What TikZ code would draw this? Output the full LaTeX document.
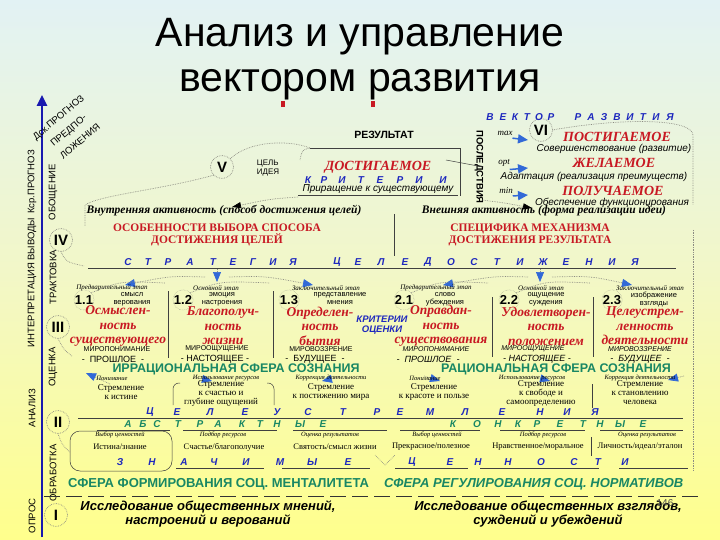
\documentclass[tikz,border=0pt]{standalone}
\usepackage{fontspec}
\setmainfont{Liberation Sans}
\setsansfont{Liberation Sans}
\newfontfamily\serifr{Liberation Serif}
\usetikzlibrary{arrows.meta}
\definecolor{vblue}{RGB}{30,40,190}
\definecolor{dred}{RGB}{200,25,35}
\definecolor{sgreen}{RGB}{25,135,100}
\definecolor{ablue}{RGB}{50,105,215}
\definecolor{axisblue}{RGB}{25,25,175}
\definecolor{bgtop}{RGB}{226,242,244}
\definecolor{bgmid}{RGB}{242,247,200}
\definecolor{bgbot}{RGB}{255,255,140}
\definecolor{dotg}{RGB}{140,140,130}
\newcommand\fsz[2]{\fontsize{#1}{#2}\selectfont}
\newcommand\spl[4]{\foreach \sletter/\sx [count=\si] in {#4} {\node[#3] (#1\si) at (\sx,#2) {\sletter};}}
\begin{document}
\begin{tikzpicture}[x=1pt,y=-1pt,
  every node/.style={inner sep=0pt, outer sep=0pt},
  sp/.style={font=\sffamily\bfseries\itshape\fsz{10}{10}, text=vblue},
  spg/.style={font=\sffamily\bfseries\itshape\fsz{10}{10}, text=sgreen},
  redb/.style={font=\serifr\bfseries\itshape\fsz{13.5}{14.5}, text=dred, align=center},
  redh/.style={font=\serifr\bfseries\itshape\fsz{14}{14}, text=dred},
  redcap/.style={font=\serifr\bfseries\fsz{11.5}{12}, text=dred, align=center},
  smalls/.style={font=\sffamily\fsz{7.5}{8}, align=center},
  lbl/.style={font=\serifr\itshape\fsz{7}{7}},
  lbls/.style={font=\serifr\itshape\fsz{6.5}{6.5}},
  num/.style={font=\sffamily\bfseries\fsz{13}{13}, circle, draw=dotg, densely dotted, minimum size=19pt},
  roman/.style={font=\sffamily\bfseries\fsz{15}{15}, circle, draw=dotg, densely dotted, line width=0.7pt, minimum size=23pt},
  side/.style={font=\sffamily\fsz{9.5}{9.5}, rotate=90},
  diag/.style={font=\sffamily\fsz{9.5}{9.5}, rotate=40},
  greenb/.style={font=\sffamily\bfseries\fsz{12.5}{12.5}, text=sgreen},
  itl/.style={font=\serifr\bfseries\itshape\fsz{11.5}{12}},
  sit/.style={font=\sffamily\itshape\fsz{10}{10}},
  capsr/.style={font=\sffamily\fsz{7}{7}},
  capsi/.style={font=\sffamily\itshape\fsz{7}{7}},
  timer/.style={font=\sffamily\fsz{9}{9}},
  timei/.style={font=\sffamily\itshape\fsz{9}{9}},
  strv/.style={font=\serifr\fsz{9}{9}, align=center},
  valr/.style={font=\serifr\fsz{8.5}{8.5}},
  dotl/.style={draw=dotg, densely dotted, line width=0.7pt},
  thinl/.style={draw=black!75, line width=0.5pt},
  btip/.style={dotl, -{Triangle[length=10pt,width=8pt,color=ablue]}},
  ktip/.style={dotl, -{Triangle[length=9pt,width=6pt,color=black]}},
  harr/.style={ablue, line width=1.5pt, -{Triangle[length=10pt,width=9pt]}}
]
% background
\shade[top color=bgtop, bottom color=bgbot, middle color=bgmid] (0,0) rectangle (720,540);
\useasboundingbox (0,0) rectangle (720,540);

% title
\node[font=\fsz{41}{41}, anchor=base] (t1) at (360,47) {Анализ и управление};
\node[font=\fsz{41}{41}, anchor=base] (t2) at (360,92) {вектором развития};
\fill[dred] (281,101) rectangle (285,107);
\fill[dred] (371,101) rectangle (375,107);

% axis
\coordinate (axb) at (42,537);
\coordinate (axt) at (42,95);
\draw[axisblue, line width=2.5pt, -{Triangle[length=11pt,width=10pt]}] (axb) -- (axt);

% side labels
\node[side] (lopros) at (32,516) {ОПРОС};
\node[side] (lanal) at (32,408) {АНАЛИЗ};
\node[side] (linterp) at (32,305) {ИНТЕРПРЕТАЦИЯ};
\node[side] (lvyv) at (32,239) {ВЫВОДЫ};
\node[side] (lkcr) at (32,182) {Кср.ПРОГНОЗ};
\node[side] (lobr) at (53,473) {ОБРАБОТКА};
\node[side] (locen) at (53,367) {ОЦЕНКА};
\node[side] (ltrakt) at (53,277) {ТРАКТОВКА};
\node[side] (lobob) at (53,192) {ОБОЩЕНИЕ};
\node[diag] (dsk) at (59,118) {Дск.ПРОГНОЗ};
\node[diag] (pred1) at (69,131) {ПРЕДПО-};
\node[diag] (pred2) at (80,141) {ЛОЖЕНИЯ};

% roman numerals
\node[roman] (rV) at (222,167) {V};
\node[roman] (rVI) at (541,130) {VI};
\node[roman] (rIV) at (61,240) {IV};
\node[roman] (rIII) at (58,327) {III};
\node[roman] (rII) at (58,422) {II};
\node[roman] (rI) at (56,515) {I};

% top block
\spl{vr}{117}{sp}{В/490,Е/503,К/515,Т/527,О/539,Р/551,Р/578,А/591,З/604,В/617,И/630,Т/643,И/656,Я/670}
\node[font=\sffamily\bfseries\fsz{10.5}{10.5}] (res) at (384,135) {РЕЗУЛЬТАТ};
\coordinate (rl0) at (310,148);
\coordinate (rl1) at (460,148);
\coordinate (rl2) at (460,196);
\coordinate (rh0) at (446,160);
\node[font=\sffamily\bfseries\fsz{9.5}{9.5}, rotate=-90] (posl) at (479,167) {ПОСЛЕДСТВИЯ};
\draw[thinl] (rl0) -- (rl1) -- (rl2);
\draw[thinl] (rh0) -- (posl.north);
\node[font=\serifr\itshape\fsz{9}{9}] (mx) at (505,133) {max};
\node[font=\serifr\itshape\fsz{9}{9}] (op) at (504,163) {opt};
\node[font=\serifr\itshape\fsz{9}{9}] (mn) at (506,191) {min};
\coordinate (a1) at (528,140); \coordinate (a2) at (528,168); \coordinate (a3) at (528,195);
\draw[harr] (mx.south east) ++(0,3) coordinate (a1s) -- (a1);
\draw[harr] (op.south east) ++(0,3) coordinate (a2s) -- (a2);
\draw[harr] (mn.south east) ++(0,2) coordinate (a3s) -- (a3);
\node[redh] (post) at (617,137) {ПОСТИГАЕМОЕ};
\node[sit] (sov) at (614,149) {Совершенствование (развитие)};
\node[redh] (zhel) at (614,163) {ЖЕЛАЕМОЕ};
\node[sit] (adap) at (594,177) {Адаптация (реализация преимуществ)};
\node[redh] (polu) at (613,191) {ПОЛУЧАЕМОЕ};
\node[sit] (obes) at (612,203) {Обеспечение функционирования};
\node[font=\sffamily\fsz{8}{9}, align=left] (celid) at (268,168) {ЦЕЛЬ\\ИДЕЯ};
\node[redh] (dost) at (378,167) {ДОСТИГАЕМОЕ};
\spl{kr}{180}{sp}{К/308,Р/324,И/342,Т/361,Е/380,Р/400,И/419,И/443}
\node[sit] (prir) at (378,189) {Приращение к существующему};
\coordinate (pu0) at (298,195); \coordinate (pu1) at (458,195);
\draw[thinl] (pu0) -- (pu1);
\coordinate (vd0) at (300,160);
\draw[dotl] (rl0) .. controls (302,150) .. (vd0);
\draw[dotl] (rV.north east) .. controls (250,140) and (290,140) .. (rl0);
\coordinate (ka0) at (298,197); \coordinate (ka1) at (232,207);
\draw[ktip] (ka0) .. controls (270,199) .. (ka1);
\coordinate (kb0) at (482,200); \coordinate (kb1) at (532,208);
\draw[ktip] (kb0) .. controls (505,203) .. (kb1);
\draw[dotl] (rVI.east) .. controls (620,118) and (692,118) .. (693,135) -- (693,205);
\draw[dotl] (rV.south west) .. controls (160,190) and (100,195) .. (85,205) -- (85,226);

% activity
\node[itl] (vnutr) at (224,211) {Внутренняя активность (способ достижения целей)};
\node[itl] (vnesh) at (544,211) {Внешняя активность (форма реализации идеи)};
\node[redcap] (osob) at (217,235) {ОСОБЕННОСТИ ВЫБОРА СПОСОБА\\ДОСТИЖЕНИЯ ЦЕЛЕЙ};
\node[redcap] (spec) at (530,235) {СПЕЦИФИКА МЕХАНИЗМА\\ДОСТИЖЕНИЯ РЕЗУЛЬТАТА};
\coordinate (mv0) at (394,214); \coordinate (mv1) at (394,256);
\draw[thinl] (mv0) -- (mv1);
\spl{st}{262}{sp}{С/128,Т/148,Р/168,А/190,Т/213,Е/233,Г/253,И/273,Я/293,Ц/337,Е/358,Л/381,Е/405,Д/428,О/451,С/474,Т/497,И/520,Ж/543,Е/566,Н/589,И/612,Я/635}
\coordinate (su0) at (88,268); \coordinate (su1) at (676,268);
\draw[thinl] (su0) -- (su1);
\coordinate (dl0) at (217,269); \coordinate (dl1) at (217,282);
\coordinate (dl2) at (125,285); \coordinate (dl3) at (313,285);
\draw[btip] (dl0) -- (dl1);
\draw[btip] (205,277) .. controls (170,276) .. (dl2);
\draw[btip] (229,277) .. controls (265,276) .. (dl3);
\coordinate (dr0) at (540,269); \coordinate (dr1) at (540,282);
\coordinate (dr2) at (443,285); \coordinate (dr3) at (632,285);
\draw[btip] (dr0) -- (dr1);
\draw[btip] (528,277) .. controls (495,276) .. (dr2);
\draw[btip] (552,277) .. controls (590,276) .. (dr3);

% boxes row
\node[lbl] (st11) at (112,288) {Предварительный этап};
\node[lbl] (st12) at (216,288) {Основной этап};
\node[lbl] (st13) at (326,288) {Заключительный этап};
\node[lbl] (st21) at (436,288) {Предварительный этап};
\node[lbl] (st22) at (541,288) {Основной этап};
\node[lbl] (st23) at (650,288) {Заключительный этап};
\node[num] (n11) at (84,300) {1.1};
\node[num] (n12) at (183,300) {1.2};
\node[num] (n13) at (289,300) {1.3};
\node[num] (n21) at (404,300) {2.1};
\node[num] (n22) at (509,300) {2.2};
\node[num] (n23) at (612,300) {2.3};
\node[smalls] (s11) at (132,299) {смысл\\верования};
\node[smalls] (s12) at (222,299) {эмоция\\настроения};
\node[smalls] (s13) at (340,299) {представление\\мнения};
\node[smalls] (s21) at (445,299) {слово\\убеждения};
\node[smalls] (s22) at (546,299) {ощущение\\суждения};
\node[smalls] (s23) at (654,299) {изображение\\взгляды};
\node[redb] (r11) at (118,326) {Осмыслен-\\ность\\существующего};
\node[redb] (r12) at (223,326) {Благополуч-\\ность\\жизни};
\node[redb] (r13) at (320,326) {Определен-\\ность\\бытия};
\node[redb] (r21) at (441,326) {Оправдан-\\ность\\существования};
\node[redb] (r22) at (546,326) {Удовлетворен-\\ность\\положением};
\node[redb] (r23) at (645,326) {Целеустрем-\\ленность\\деятельности};
\node[font=\sffamily\bfseries\itshape\fsz{9.5}{10}, text=vblue, align=center] (krit) at (382,325) {КРИТЕРИИ\\ОЦЕНКИ};
\node[capsr] (m11) at (117,349) {МИРОПОНИМАНИЕ};
\node[capsr] (m12) at (217,349) {МИРООЩУЩЕНИЕ};
\node[capsr] (m13) at (321,349) {МИРОВОЗЗРЕНИЕ};
\node[capsi] (m21) at (436,349) {МИРОПОНИМАНИЕ};
\node[capsi] (m22) at (533,349) {МИРООЩУЩЕНИЕ};
\node[capsi] (m23) at (640,349) {МИРОВОЗЗРЕНИЕ};
\node[timer] (p11) at (113,359) {- \ ПРОШЛОЕ \ -};
\node[timer] (p12) at (215,359) {- НАСТОЯЩЕЕ -};
\node[timer] (p13) at (315,359) {- \ БУДУЩЕЕ \ -};
\node[timei] (p21) at (428,359) {- \ ПРОШЛОЕ \ -};
\node[timei] (p22) at (537,359) {- НАСТОЯЩЕЕ -};
\node[timei] (p23) at (640,359) {- \ БУДУЩЕЕ \ -};
\node[greenb] (irr) at (236,369.5) {ИРРАЦИОНАЛЬНАЯ СФЕРА СОЗНАНИЯ};
\node[greenb] (rac) at (556,369.5) {РАЦИОНАЛЬНАЯ СФЕРА СОЗНАНИЯ};
\draw[thinl] (168,291) -- (168,358);
\draw[thinl] (273,291) -- (273,358);
\draw[thinl] (492,297) -- (492,357);
\draw[thinl] (593,297) -- (593,357);
\draw[dotl] (n11.north east) .. controls (120,281) .. (165,283);
\draw[dotl] (n12.north east) .. controls (220,281) .. (270,283);
\draw[dotl] (n21.north east) .. controls (440,281) .. (488,283);
\draw[dotl] (n22.north east) .. controls (545,281) .. (590,283);

% blue arrows near sphere labels
\coordinate (ba1) at (86,373); \coordinate (ba2) at (212,381); \coordinate (ba3) at (322,381);
\coordinate (ba4) at (440,381); \coordinate (ba5) at (550,381); \coordinate (ba6) at (668,380);
\draw[btip] (110,384) -- (ba1);
\draw[btip] (194,377) -- (ba2);
\draw[btip] (340,377) -- (ba3);
\draw[btip] (424,376) -- (ba4);
\draw[btip] (532,376) -- (ba5);
\draw[btip] (684,376) -- (ba6);

% lower rows
\node[lbls] (u1) at (112,378) {Понимание};
\node[lbls] (u2) at (226,378) {Использование ресурсов};
\node[lbls] (u3) at (331,378) {Коррекция деятельности};
\node[lbls] (u4) at (425,378) {Понимание};
\node[lbls] (u5) at (532,378) {Использование ресурсов};
\node[lbls] (u6) at (640,378) {Коррекция деятельности};
\node[strv] (w1) at (121,392) {Стремление\\к истине};
\node[strv] (w2) at (221,393) {Стремление\\к счастью и\\глубине ощущений};
\node[strv] (w3) at (331,392) {Стремление\\к постижению мира};
\node[strv] (w4) at (434,392) {Стремление\\к красоте и пользе};
\node[strv] (w5) at (541,393) {Стремление\\к свободе и\\самоопределению};
\node[strv] (w6) at (640,393) {Стремление\\к становлению\\человека};
\draw[thinl, rounded corners=6pt] (173,405) -- (173,383) -- (180,383);
\draw[thinl, rounded corners=6pt] (267,383) -- (274,383) -- (274,405);
\draw[thinl] (592,384) -- (592,408);
\spl{cu}{412}{sp}{Ц/150,Е/177,Л/210,Е/245,У/277,С/308,Т/343,Р/377,Е/400,М/430,Л/465,Е/502,Н/540,И/567,Я/595}
\coordinate (cl0) at (78,418); \coordinate (cl1) at (683,418);
\draw[thinl] (cl0) -- (cl1);
\spl{ab}{424}{spg}{А/128,Б/143,С/157,Т/178,Р/200,А/218,К/242,Т/260,Н/277,Ы/300,Е/323}
\spl{ko}{424}{spg}{К/453,О/477,Н/498,К/518,Р/537,Е/560,Т/583,Н/600,Ы/620,Е/643}
\foreach \ua/\ub in {97/170,183/277,293/387,400/480,500/585,600/683} {\draw[thinl] (\ua,430) -- (\ub,430);}
\node[lbls] (v1) at (120,435) {Выбор ценностей};
\node[lbls] (v2) at (223,435) {Подбор ресурсов};
\node[lbls] (v3) at (330,435) {Оценка результатов};
\node[lbls] (v4) at (437,435) {Выбор ценностей};
\node[lbls] (v5) at (543,435) {Подбор ресурсов};
\node[lbls] (v6) at (647,435) {Оценка результатов};
\node[valr] (z1) at (120,447) {Истина/знание};
\node[valr] (z2) at (224,447) {Счастье/благополучие};
\node[valr] (z3) at (335,447) {Святость/смысл жизни};
\node[valr] (z4) at (431,447) {Прекрасное/полезное};
\node[valr] (z5) at (538,447) {Нравственное/моральное};
\node[valr] (z6) at (640,447) {Личность/идеал/эталон};
\draw[thinl] (591,437) -- (591,456);
\draw[thinl, rounded corners=10pt] (70,431) rectangle (172,471);
\spl{zn}{462}{sp}{З/120,Н/152,А/184,Ч/214,И/246,М/280,Ы/312,Е/348,Ц/412,Е/450,Н/478,Н/508,О/541,С/574,Т/598,И/625}
\foreach \ua/\ub in {176/264,282/370,395/468,480/599,619/688} {\draw[thinl] (\ua,468) -- (\ub,468);}
\draw[dotl] (rII.south) .. controls (62,445) .. (70,452);
\draw[dotl] (rIII.south) .. controls (64,350) .. (72,356);
\draw[dotl] (rIV.south) .. controls (66,262) .. (84,266);
\draw[dotl] (693,230) -- (693,470);
\draw[dotl] (375,455) -- (385,465) -- (395,455);

% bottom
\node[font=\sffamily\bfseries\fsz{13}{13}, text=sgreen, anchor=west] (sf1) at (68,484) {СФЕРА ФОРМИРОВАНИЯ СОЦ. МЕНТАЛИТЕТА};
\node[font=\sffamily\bfseries\itshape\fsz{13}{13}, text=sgreen, anchor=west] (sf2) at (384,484) {СФЕРА РЕГУЛИРОВАНИЯ СОЦ. НОРМАТИВОВ};
\coordinate (dsh0) at (44,496); \coordinate (dsh1) at (700,496);
\draw[black!80, line width=0.6pt, dash pattern=on 16pt off 6pt] (dsh0) -- (dsh1);
\node[font=\sffamily\bfseries\itshape\fsz{13}{14}, align=center] (b1) at (208,514) {Исследование общественных мнений,\\настроений и верований};
\node[font=\sffamily\bfseries\itshape\fsz{13}{14}, align=center] (b2) at (548,514) {Исследование общественных взглядов,\\суждений и убеждений};
\node[font=\sffamily\fsz{10}{10}, text=black!70] (pg) at (665,503) {146};
\end{tikzpicture}
\end{document}
